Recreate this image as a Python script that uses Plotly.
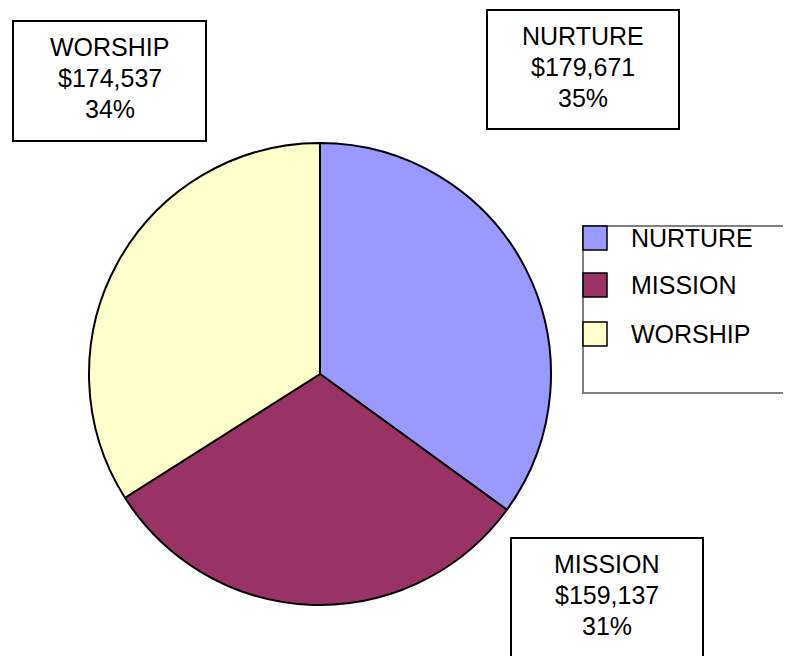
import plotly.graph_objects as go

categories = ["NURTURE", "MISSION", "WORSHIP"]
amounts = [179671, 159137, 174537]
percent_labels = ["35%", "31%", "34%"]
colors = ["#9999FF", "#993366", "#FFFFCC"]

W, H = 791, 656
OFF = 8  # page body margin

def px(x):
    return (x - OFF) / W

def py(y):
    return 1 - (y - OFF) / H

fig = go.Figure()
fig.add_trace(go.Pie(
    labels=categories,
    values=amounts,
    sort=False,
    direction="clockwise",
    rotation=0,
    marker=dict(colors=colors, line=dict(color="black", width=2)),
    textinfo="none",
    hoverinfo="label+value+percent",
    showlegend=False,
    domain=dict(x=[px(89), px(551)], y=[py(605), py(143)]),
))

font = dict(family="Arial, Liberation Sans, sans-serif", size=25, color="black")

# label boxes (left, top, right, bottom) in pixels
boxes = {
    "WORSHIP": (13, 21, 206, 141),
    "NURTURE": (487, 10, 679, 129),
    "MISSION": (511, 538, 703, 658),
}
line_offsets = [26, 57, 88]
shapes = []
annotations = []
for cat, amt, pct in zip(categories, amounts, percent_labels):
    l, t, r, b = boxes[cat]
    shapes.append(dict(type="rect", xref="paper", yref="paper",
                       x0=px(l), x1=px(r), y0=py(b), y1=py(t),
                       line=dict(color="black", width=2), fillcolor="white"))
    for txt, off in zip([cat, f"${amt:,}", pct], line_offsets):
        annotations.append(dict(
            xref="paper", yref="paper", x=px((l + r) / 2), y=py(t + off),
            xanchor="center", yanchor="middle", showarrow=False,
            text=txt, font=font, align="center"))

# legend
shapes.append(dict(type="rect", xref="paper", yref="paper",
                   x0=px(583), x1=px(830), y0=py(393), y1=py(226),
                   line=dict(color="#808080", width=2), fillcolor="rgba(0,0,0,0)"))
leg_tops = [226, 273, 322]
for cat, col, t in zip(categories, colors, leg_tops):
    shapes.append(dict(type="rect", xref="paper", yref="paper",
                       x0=px(583), x1=px(607), y0=py(t + 24), y1=py(t),
                       line=dict(color="black", width=1.5), fillcolor=col))
    annotations.append(dict(
        xref="paper", yref="paper", x=px(629), y=py(t + 12),
        xanchor="left", yanchor="middle", showarrow=False,
        text=cat, font=font))

fig.update_layout(
    width=W, height=H,
    margin=dict(l=0, r=0, t=0, b=0),
    paper_bgcolor="white", plot_bgcolor="white",
    shapes=shapes, annotations=annotations,
)

fig.write_html("out.html")
